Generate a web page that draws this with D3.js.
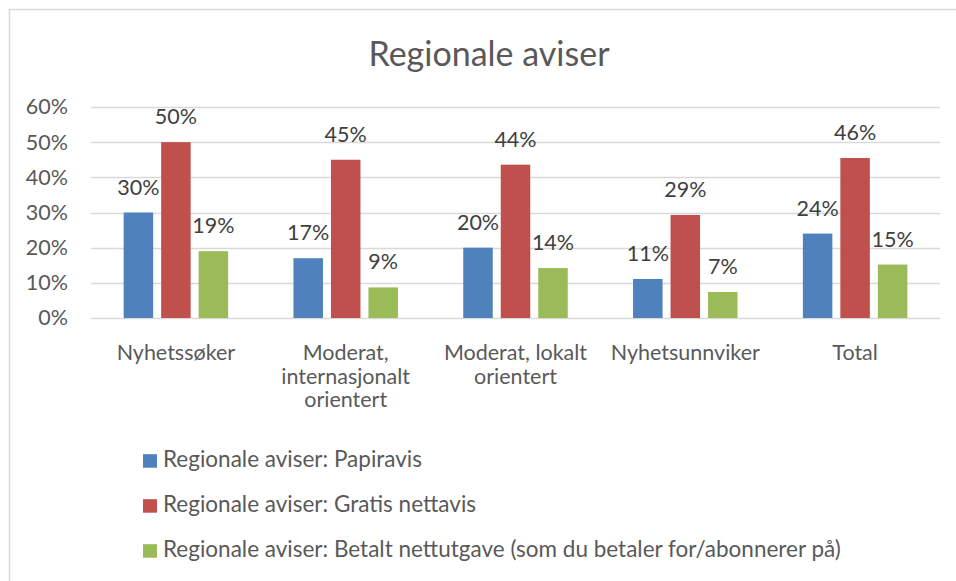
<!DOCTYPE html>
<html>
<head>
<meta charset="utf-8">
<script src="https://cdn.jsdelivr.net/npm/d3@7/dist/d3.min.js"></script>
<style>
  html, body { margin: 0; padding: 0; background: #fff; }
  svg { display: block; font-family: Lato, "Open Sans", sans-serif; }
</style>
</head>
<body>
<svg id="chart" width="956" height="581"></svg>
<script>
const title = "Regionale aviser";
const categories = ["Nyhetssøker", "Moderat, internasjonalt orientert", "Moderat, lokalt orientert", "Nyhetsunnviker", "Total"];
const seriesNames = [
  "Regionale aviser: Papiravis",
  "Regionale aviser: Gratis nettavis",
  "Regionale aviser: Betalt nettutgave (som du betaler for/abonnerer på)"
];
const papiravis = [0.30, 0.17, 0.20, 0.111, 0.24];
const gratis = [0.50, 0.45, 0.436, 0.293, 0.455];
const betalt = [0.19, 0.087, 0.142, 0.074, 0.152];
const seriesColors = ["#4F81BD", "#C0504D", "#9BBB59"];
const yTicks = [0, 0.1, 0.2, 0.3, 0.4, 0.5, 0.6];

const seriesValues = [papiravis, gratis, betalt];
const svg = d3.select("#chart");
const FS = 21.5;

// chart border (cropped at right/bottom)
svg.append("path").attr("d", "M9.5,581 L9.5,9.5 L956,9.5")
  .attr("fill", "none").attr("stroke", "#D9D9D9").attr("stroke-width", 1.5);

// title
svg.append("text").attr("x", 489).attr("y", 66).attr("text-anchor", "middle")
  .attr("font-size", 34).attr("fill", "#595959").text(title);

const x0 = d3.scaleBand().domain(categories).range([91, 940]).padding(0);
const x1 = d3.scaleBand().domain(d3.range(3)).range([0, x0.bandwidth()])
  .paddingInner(0.213).paddingOuter(0.871);
const y = d3.scaleLinear().domain([0, 0.6]).range([318, 107]);

// gridlines
svg.append("g").selectAll("line").data(yTicks).join("line")
  .attr("x1", 91).attr("x2", 940)
  .attr("y1", d => Math.round(y(d)) + 0.5).attr("y2", d => Math.round(y(d)) + 0.5)
  .attr("stroke", "#D9D9D9").attr("stroke-width", 1.3);

// y axis labels
const yAxis = d3.axisLeft(y).tickValues(yTicks).tickFormat(d3.format(".0%")).tickSize(0).tickPadding(0);
const ya = svg.append("g").attr("transform", "translate(68,0)").call(yAxis);
ya.select(".domain").remove();
ya.selectAll("text").attr("font-size", FS).attr("fill", "#595959")
  .attr("font-family", "Lato, sans-serif");

// bars
const groups = svg.append("g").selectAll("g").data(categories).join("g")
  .attr("transform", d => `translate(${x0(d)},0)`);

groups.selectAll("rect").data((c, i) => seriesValues.map((s, k) => ({k, v: s[i]}))).join("rect")
  .attr("x", d => x1(d.k)).attr("width", x1.bandwidth())
  .attr("y", d => y(d.v)).attr("height", d => y(0) - y(d.v))
  .attr("fill", d => seriesColors[d.k]);

groups.selectAll("text.lbl").data((c, i) => seriesValues.map((s, k) => ({k, v: s[i]}))).join("text")
  .attr("class", "lbl")
  .attr("x", d => x1(d.k) + x1.bandwidth() / 2).attr("y", d => y(d.v) - 18)
  .attr("text-anchor", "middle").attr("font-size", FS).attr("fill", "#404040")
  .text(d => d3.format(".0%")(d.v));

// category labels with wrapping
const catG = svg.append("g");
categories.forEach(c => {
  const cx = x0(c) + x0.bandwidth() / 2;
  const t = catG.append("text").attr("x", cx).attr("y", 360)
    .attr("text-anchor", "middle").attr("font-size", FS).attr("fill", "#595959");
  const words = c.split(" ");
  let line = [];
  let lineNo = 0;
  let ts = t.append("tspan").attr("x", cx).attr("y", 360);
  words.forEach(w => {
    line.push(w);
    ts.text(line.join(" "));
    if (ts.node().getComputedTextLength() > 165 && line.length > 1) {
      line.pop();
      ts.text(line.join(" "));
      line = [w];
      lineNo++;
      ts = t.append("tspan").attr("x", cx).attr("y", 360 + lineNo * 23.7).text(w);
    }
  });
});

// legend
const leg = svg.append("g");
seriesNames.forEach((n, k) => {
  const by = 466.7 + k * 45;
  leg.append("rect").attr("x", 143).attr("y", by - 12.5).attr("width", 14).attr("height", 13.5)
    .attr("fill", seriesColors[k]);
  leg.append("text").attr("x", 163).attr("y", by).attr("font-size", 22.5)
    .attr("fill", "#595959").text(n);
});
</script>
</body>
</html>
